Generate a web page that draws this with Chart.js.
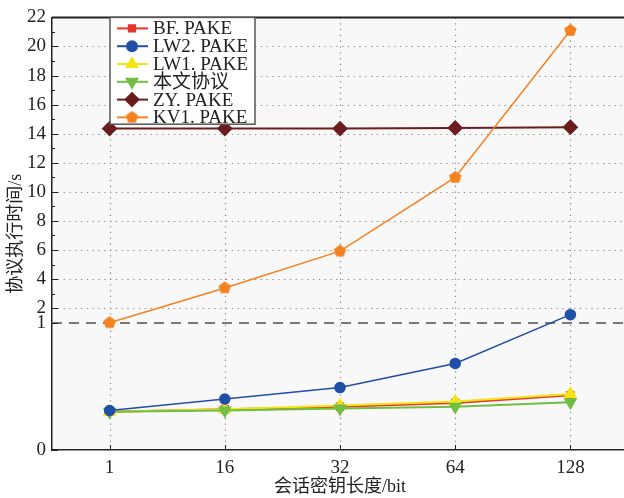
<!DOCTYPE html>
<html>
<head>
<meta charset="utf-8">
<script src="https://cdn.jsdelivr.net/npm/chart.js@4/dist/chart.umd.min.js"></script>
<style>
  html, body { margin: 0; padding: 0; background: #fff; overflow: hidden; }
  #timeChart { display: block; }
</style>
</head>
<body>
<canvas id="timeChart" width="628" height="498"></canvas>
<script>
// Data (seconds)
const keyLengths = ['1', '16', '32', '64', '128'];
const bfPake  = [0.30, 0.32, 0.34, 0.37, 0.43];
const lw2Pake = [0.31, 0.40, 0.49, 0.68, 1.55];
const lw1Pake = [0.30, 0.32, 0.35, 0.38, 0.44];
const ourProtocol = [0.30, 0.31, 0.325, 0.34, 0.375];
const zyPake  = [14.35, 14.35, 14.35, 14.4, 14.45];
const kv1Pake = [1.0, 3.39, 5.92, 10.99, 21.1];

const yLabelValues = [0, 1, 2, 4, 6, 8, 10, 12, 14, 16, 18, 20, 22];
const yMinorValues = [3, 5, 7, 9, 11, 13, 15, 17, 19, 21];

// broken axis: 0..1 is stretched, above 1 is linear
const BREAK_K = 8.76;
function toAxis(v) { return v <= 1 ? v * BREAK_K : BREAK_K + (v - 1); }
function fromAxis(d) { return d <= BREAK_K ? d / BREAK_K : d - BREAK_K + 1; }

const serif = '"Liberation Serif", "DejaVu Serif", "Noto Sans CJK SC", serif';

function makePentagon(color, r) {
  const c = document.createElement('canvas');
  c.width = c.height = r * 2 + 2;
  const g = c.getContext('2d');
  g.fillStyle = color;
  g.beginPath();
  for (let i = 0; i < 5; i++) {
    const a = -Math.PI / 2 + i * 2 * Math.PI / 5;
    const x = r + 1 + r * Math.cos(a), y = r + 1 + r * Math.sin(a);
    if (i === 0) g.moveTo(x, y); else g.lineTo(x, y);
  }
  g.closePath();
  g.fill();
  return c;
}
const pentagon = makePentagon('#f5811f', 6.5);

function series(label, values, color, style, radius, rotation, order, width) {
  return {
    label: label,
    data: values.map(toAxis),
    borderColor: color,
    backgroundColor: color,
    pointBackgroundColor: color,
    pointBorderColor: color,
    pointStyle: style,
    pointRadius: radius,
    pointRotation: rotation,
    borderWidth: width,
    order: order,
    tension: 0
  };
}

// grid, ticks, frame
const framePlugin = {
  id: 'frame',
  beforeDatasetsDraw(chart) {
    const { ctx, chartArea: a } = chart;
    const y = chart.scales.y, x = chart.scales.x;
    ctx.save();
    ctx.strokeStyle = '#9a8585';
    ctx.lineWidth = 1.2;
    ctx.setLineDash([1.3, 4.5]);
    yLabelValues.filter(v => v >= 2).forEach(v => {
      const py = Math.round(y.getPixelForValue(toAxis(v))) + 0.5;
      ctx.beginPath(); ctx.moveTo(a.left, py); ctx.lineTo(a.right, py); ctx.stroke();
    });
    keyLengths.forEach((k, i) => {
      const px = Math.round(x.getPixelForValue(i)) + 0.5;
      ctx.beginPath(); ctx.moveTo(px, a.top); ctx.lineTo(px, a.bottom); ctx.stroke();
    });
    // dashed break line at 1
    ctx.strokeStyle = '#7a7a7a';
    ctx.lineWidth = 2;
    ctx.setLineDash([10, 7]);
    const p1 = Math.round(y.getPixelForValue(toAxis(1)));
    ctx.beginPath(); ctx.moveTo(a.left, p1); ctx.lineTo(a.right, p1); ctx.stroke();
    // inner tick marks
    ctx.setLineDash([]);
    ctx.strokeStyle = '#222';
    ctx.lineWidth = 1;
    yLabelValues.forEach(v => {
      const py = Math.round(y.getPixelForValue(toAxis(v))) + 0.5;
      ctx.beginPath(); ctx.moveTo(a.left, py); ctx.lineTo(a.left + 6, py); ctx.stroke();
    });
    yMinorValues.forEach(v => {
      const py = Math.round(y.getPixelForValue(toAxis(v))) + 0.5;
      ctx.beginPath(); ctx.moveTo(a.left, py); ctx.lineTo(a.left + 3, py); ctx.stroke();
    });
    keyLengths.forEach((k, i) => {
      const px = Math.round(x.getPixelForValue(i)) + 0.5;
      ctx.beginPath(); ctx.moveTo(px, a.bottom); ctx.lineTo(px, a.bottom - 5); ctx.stroke();
    });
    // top frame line
    ctx.strokeStyle = '#222';
    ctx.lineWidth = 2;
    ctx.beginPath(); ctx.moveTo(a.left, a.top); ctx.lineTo(a.right, a.top); ctx.stroke();
    ctx.restore();
  },
  beforeDraw(chart) {
    const { ctx, chartArea: a } = chart;
    ctx.save();
    ctx.fillStyle = '#f8f8f8';
    ctx.fillRect(a.left, a.top, a.right - a.left, a.bottom - a.top);
    ctx.restore();
  }
};

// legend box with line + marker samples
const legendPlugin = {
  id: 'boxLegend',
  afterDraw(chart) {
    const { ctx, chartArea: a } = chart;
    const x0 = a.left + 58, y0 = a.top, w = 145, rowH = 17.8;
    const sets = chart.data.datasets;
    ctx.save();
    ctx.fillStyle = '#fff';
    ctx.fillRect(x0, y0, w, rowH * sets.length);
    ctx.strokeStyle = '#555';
    ctx.lineWidth = 1.5;
    ctx.strokeRect(x0, y0, w, rowH * sets.length);
    ctx.font = '19px ' + serif;
    ctx.textBaseline = 'middle';
    sets.forEach((ds, i) => {
      const cy = y0 + 11 + i * rowH;
      ctx.strokeStyle = ds.borderColor;
      ctx.lineWidth = 2;
      ctx.beginPath(); ctx.moveTo(x0 + 7, cy); ctx.lineTo(x0 + 38, cy); ctx.stroke();
      ctx.fillStyle = ds.backgroundColor;
      Chart.helpers.drawPoint(ctx, {
        pointStyle: ds.pointStyle, rotation: ds.pointRotation,
        radius: ds.pointRadius, borderWidth: 1
      }, x0 + 22, cy);
      ctx.fillStyle = '#222';
      ctx.fillText(ds.label, x0 + 43, cy + 1);
    });
    ctx.restore();
  }
};

const timeCtx = document.getElementById('timeChart').getContext('2d');
const timeChart = new Chart(timeCtx, {
  type: 'line',
  data: {
    labels: keyLengths,
    datasets: [
      series('BF. PAKE', bfPake, '#e8352b', 'rect', 4.5, 0, 5, 2),
      series('LW2. PAKE', lw2Pake, '#1f4fa6', 'circle', 5, 0, 2, 1.5),
      series('LW1. PAKE', lw1Pake, '#f3e414', 'triangle', 6, 0, 4, 2),
      series('本文协议', ourProtocol, '#70bf44', 'triangle', 6, 180, 3, 2),
      series('ZY. PAKE', zyPake, '#6b1c1c', 'rectRot', 6.5, 0, 1, 2),
      series('KV1. PAKE', kv1Pake, '#f5811f', pentagon, 6.5, 0, 0, 1.5)
    ]
  },
  options: {
    responsive: false,
    animation: false,
    layout: { autoPadding: false, padding: { top: 15, left: 0, right: 0, bottom: 0 } },
    plugins: {
      legend: { display: false },
      tooltip: { enabled: false }
    },
    scales: {
      x: {
        offset: true,
        grid: { display: false, drawTicks: false, tickLength: 0 },
        border: { display: true, color: '#222', width: 1.5 },
        ticks: { color: '#222', padding: 7, font: { family: serif, size: 19 } },
        title: { display: true, text: '会话密钥长度/bit', color: '#222', padding: { top: 0, bottom: 0 },
                 font: { family: serif, size: 18 } },
        afterFit(scale) { scale.height = 48; }
      },
      y: {
        min: 0,
        max: toAxis(22),
        grid: { display: false, drawTicks: false, tickLength: 0 },
        border: { display: true, color: '#222', width: 1.5 },
        afterBuildTicks(scale) {
          scale.ticks = yLabelValues.map(v => ({ value: toAxis(v) }));
        },
        ticks: {
          color: '#222',
          padding: 6,
          font: { family: serif, size: 19 },
          callback: value => String(Math.round(fromAxis(value)))
        },
        title: { display: true, text: '协议执行时间/s', color: '#222', padding: { top: 5, bottom: 0 },
                 font: { family: serif, size: 18 } },
        afterFit(scale) { scale.width = 52; }
      }
    }
  },
  plugins: [framePlugin, legendPlugin]
});
</script>
</body>
</html>
